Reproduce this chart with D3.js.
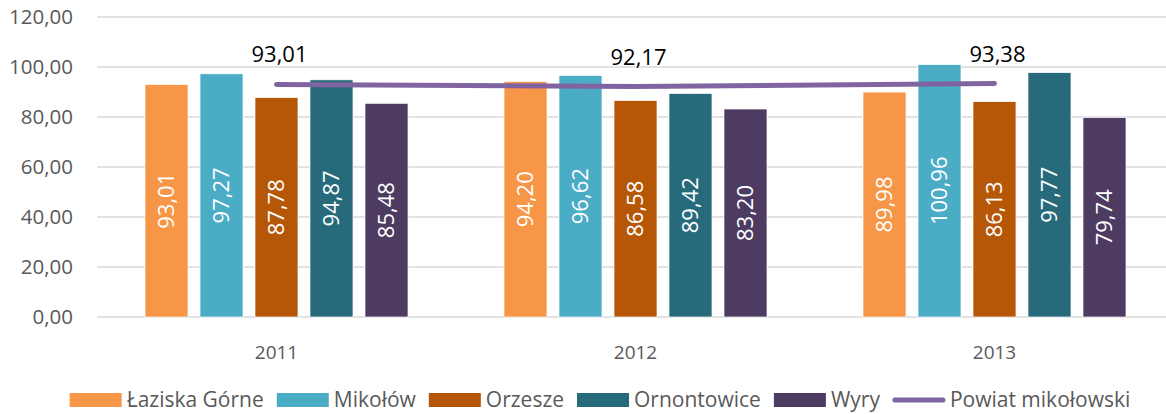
<!DOCTYPE html>
<html>
<head>
<meta charset="utf-8">
<script src="https://cdn.jsdelivr.net/npm/d3@7"></script>
<style>
  body { margin: 0; background: #fff; }
  svg { display: block; font-family: "Open Sans", sans-serif; }
</style>
</head>
<body>
<svg id="chart" width="1166" height="414"></svg>
<script>
const years = ["2011", "2012", "2013"];
const gminy = ["Łaziska Górne", "Mikołów", "Orzesze", "Ornontowice", "Wyry"];
const barColors = ["#F79646", "#4BACC6", "#B65708", "#276A7C", "#4D3B62"];
const values2011 = [93.01, 97.27, 87.78, 94.87, 85.48];
const values2012 = [94.20, 96.62, 86.58, 89.42, 83.20];
const values2013 = [89.98, 100.96, 86.13, 97.77, 79.74];
const powiatName = "Powiat mikołowski";
const powiatValues = [93.01, 92.17, 93.38];
const lineColor = "#8064A2";
const yTicks = [0, 20, 40, 60, 80, 100, 120];

const barValues = [values2011, values2012, values2013];
const fmt = v => d3.format(".2f")(v).replace(".", ",");

const svg = d3.select("#chart");

const x = d3.scaleBand().domain(years).range([97, 1174]);
const xInner = d3.scaleBand().domain(gminy).range([0, 263]).paddingInner(0.218);
const groupOffset = (x.bandwidth() - 263) / 2;
const y = d3.scaleLinear().domain([0, 120]).range([317, 17]);

// gridlines
svg.append("g")
    .selectAll("line")
    .data(yTicks)
    .join("line")
    .attr("x1", 97)
    .attr("x2", 1174)
    .attr("y1", d => y(d))
    .attr("y2", d => y(d))
    .attr("stroke", "#D9D9D9")
    .attr("stroke-width", 1.5);

// y labels
svg.append("g")
    .selectAll("text")
    .data(yTicks)
    .join("text")
    .attr("x", 73)
    .attr("y", d => y(d))
    .attr("dy", "0.35em")
    .attr("text-anchor", "end")
    .attr("font-size", 20.5)
    .attr("fill", "#595959")
    .text(d => fmt(d));

// x labels
svg.append("g")
    .selectAll("text")
    .data(years)
    .join("text")
    .attr("x", d => x(d) + x.bandwidth() / 2)
    .attr("y", 352)
    .attr("dy", "0.35em")
    .attr("text-anchor", "middle")
    .attr("font-size", 19)
    .attr("fill", "#595959")
    .text(d => d);

// bars
const groups = svg.append("g")
    .selectAll("g")
    .data(years)
    .join("g")
    .attr("transform", d => `translate(${x(d) + groupOffset},0)`);

const barData = (d, i) => gminy.map((g, j) => ({ g, j, v: barValues[i][j] }));

groups.selectAll("rect")
    .data(barData)
    .join("rect")
    .attr("x", d => xInner(d.g))
    .attr("y", d => y(d.v))
    .attr("width", xInner.bandwidth())
    .attr("height", d => y(0) - y(d.v))
    .attr("fill", d => barColors[d.j])
    .attr("stroke", "#fff")
    .attr("stroke-width", 0.7);

groups.selectAll("text")
    .data(barData)
    .join("text")
    .attr("transform", d => `translate(${xInner(d.g) + xInner.bandwidth() / 2},${(y(d.v) + y(0)) / 2}) rotate(-90)`)
    .attr("text-anchor", "middle")
    .attr("dy", "0.35em")
    .attr("font-size", 22)
    .attr("fill", "#fff")
    .text(d => fmt(d.v));

// powiat line
const linePts = years.map((yr, i) => [x(yr) + x.bandwidth() / 2, y(powiatValues[i])]);
svg.append("path")
    .attr("d", d3.line()(linePts))
    .attr("fill", "none")
    .attr("stroke", lineColor)
    .attr("stroke-width", 5)
    .attr("stroke-linecap", "round")
    .attr("stroke-linejoin", "round");

svg.append("g")
    .selectAll("text")
    .data(linePts)
    .join("text")
    .attr("x", d => d[0] + 3)
    .attr("y", d => d[1] - 22)
    .attr("text-anchor", "middle")
    .attr("font-size", 22)
    .attr("fill", "#000")
    .text((d, i) => fmt(powiatValues[i]));

// legend
const legendItems = gminy.map((g, j) => ({ name: g, color: barColors[j], type: "bar" }))
    .concat([{ name: powiatName, color: lineColor, type: "line" }]);

const legend = svg.append("g");
let lx = 0;
legendItems.forEach(item => {
    const it = legend.append("g").attr("transform", `translate(${lx},0)`);
    if (item.type === "bar") {
        it.append("rect")
            .attr("x", 0).attr("y", -7)
            .attr("width", 52).attr("height", 14)
            .attr("fill", item.color);
    } else {
        it.append("line")
            .attr("x1", 2).attr("x2", 50)
            .attr("stroke", item.color)
            .attr("stroke-width", 5)
            .attr("stroke-linecap", "round");
    }
    const t = it.append("text")
        .attr("x", 57)
        .attr("dy", "0.35em")
        .attr("font-size", 21)
        .attr("fill", "#595959")
        .text(item.name);
    lx += 57 + t.node().getComputedTextLength() + 13;
});
lx -= 13;
legend.attr("transform", `translate(${600 - lx / 2},400)`);
</script>
</body>
</html>
